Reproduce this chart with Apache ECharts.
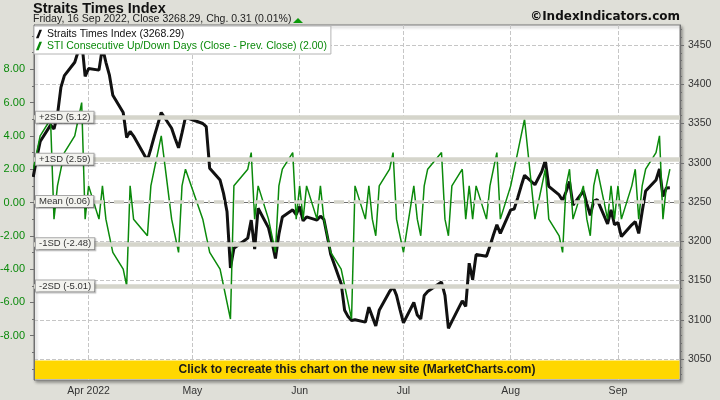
<!DOCTYPE html>
<html><head><meta charset="utf-8">
<script src="https://cdn.jsdelivr.net/npm/echarts@6/dist/echarts.min.js"></script>
<style>html,body{margin:0;padding:0;background:#dfdfd8}#c{width:720px;height:400px}</style>
</head><body><div id="c"></div>
<script>
// ---- data ----
const tradingDates = [
 '2022-03-16','2022-03-17','2022-03-18','2022-03-21','2022-03-22','2022-03-23','2022-03-24','2022-03-25','2022-03-28','2022-03-29','2022-03-30','2022-03-31',
 '2022-04-01','2022-04-04','2022-04-05','2022-04-06','2022-04-07','2022-04-08','2022-04-11','2022-04-12','2022-04-13','2022-04-14','2022-04-18','2022-04-19','2022-04-20','2022-04-21','2022-04-22','2022-04-25','2022-04-26','2022-04-27','2022-04-28','2022-04-29',
 '2022-05-04','2022-05-05','2022-05-06','2022-05-09','2022-05-10','2022-05-11','2022-05-12','2022-05-13','2022-05-17','2022-05-18','2022-05-19','2022-05-20','2022-05-23','2022-05-24','2022-05-25','2022-05-26','2022-05-27','2022-05-30','2022-05-31',
 '2022-06-01','2022-06-02','2022-06-03','2022-06-06','2022-06-07','2022-06-08','2022-06-09','2022-06-10','2022-06-13','2022-06-14','2022-06-15','2022-06-16','2022-06-17','2022-06-20','2022-06-21','2022-06-22','2022-06-23','2022-06-24','2022-06-27','2022-06-28','2022-06-29','2022-06-30',
 '2022-07-01','2022-07-04','2022-07-05','2022-07-06','2022-07-07','2022-07-08','2022-07-12','2022-07-13','2022-07-14','2022-07-15','2022-07-18','2022-07-19','2022-07-20','2022-07-21','2022-07-22','2022-07-25','2022-07-26','2022-07-27','2022-07-28','2022-07-29',
 '2022-08-01','2022-08-02','2022-08-03','2022-08-04','2022-08-05','2022-08-08','2022-08-10','2022-08-11','2022-08-12','2022-08-15','2022-08-16','2022-08-17','2022-08-18','2022-08-19','2022-08-22','2022-08-23','2022-08-24','2022-08-25','2022-08-26','2022-08-29','2022-08-30','2022-08-31',
 '2022-09-01','2022-09-02','2022-09-05','2022-09-06','2022-09-07','2022-09-08','2022-09-09','2022-09-12','2022-09-13','2022-09-14','2022-09-15','2022-09-16'
];
const stiClose = [
 3282,3306,3327,3348,3343,3361,3396,3411,3428,3442,3456,3410,
 3420,3418,3447,3428,3412,3386,3364,3332,3340,3334,3303,3318,3334,3349,3364,3344,3331,3319,3338,3358,
 3350,3346,3293,3278,3261,3238,3166,3191,3204,3227,3190,3242,3217,3199,3178,3209,3231,3240,3234,
 3244,3226,3231,3227,3232,3228,3206,3183,3146,3112,3104,3099,3100,3097,3116,3104,3092,3112,3136,3142,3131,3113,
 3096,3122,3106,3101,3131,3136,3148,3131,3089,3098,3124,3117,3172,3151,3183,3181,3194,3208,3221,3210,
 3240,3241,3255,3270,3284,3272,3289,3303,3270,3259,3252,3263,3276,3246,3264,3248,3233,3251,3253,3222,3240,3221,
 3224,3206,3221,3225,3210,3238,3264,3278,3292,3257,3267.98,3268.29
];
const consecDays = [
 2,3,4,5,-1,1,2,3,4,5,6,-1,
 1,-1,1,-1,-2,-3,-4,-5,1,-1,-2,1,2,3,4,-1,-2,-3,1,2,
 -1,-2,-3,-4,-5,-6,-7,1,2,3,-1,1,-1,-2,-3,1,2,3,-1,
 1,-1,1,-1,1,-1,-2,-3,-4,-5,-6,-7,1,-1,1,-1,-2,1,2,3,-1,-2,
 -3,1,-1,-2,1,2,3,-1,-2,1,2,-1,1,-1,1,-1,1,2,3,-1,
 1,2,3,4,5,-1,1,2,-1,-2,-3,1,2,-1,1,-1,-2,1,2,-1,1,-1,
 1,-1,1,2,-1,1,2,3,4,-1,1,2
];
const sdLevels = [5.12, 2.59, 0.06, -2.48, -5.01];
const sdLabels = ['+2SD (5.12)', '+1SD (2.59)', 'Mean (0.06)', '-1SD (-2.48)', '-2SD (-5.01)'];
const monthTicks = ['2022-04-01','2022-05-01','2022-06-01','2022-07-01','2022-08-01','2022-09-01'];
const monthLabels = ['Apr 2022','May','Jun','Jul','Aug','Sep'];
const leftTicks = [-8,-6,-4,-2,0,2,4,6,8];
const leftMinorTicks = [-10,-9,-7,-5,-3,-1,1,3,5,7,9,10];
const rightTicks = [3050,3100,3150,3200,3250,3300,3350,3400,3450];
const rightMinorTicks = [3030,3040,3060,3070,3080,3090,3110,3120,3130,3140,3160,3170,3180,3190,3210,3220,3230,3240,3260,3270,3280,3290,3310,3320,3330,3340,3360,3370,3380,3390,3410,3420,3430,3440,3460,3470];
const nameSTI = 'Straits Times Index (3268.29)';
const nameCD = 'STI Consecutive Up/Down Days (Close - Prev. Close) (2.00)';

// ---- build ----
const DAY = 86400000;
const ts = tradingDates.map(d => Date.parse(d));
const monthTs = monthTicks.map(d => Date.parse(d));
const APR1 = Date.parse('2022-04-01');
const xMin = APR1 - 15.78 * DAY, xMax = APR1 + 170.93 * DAY;
const GREEN = '#0b8a0b';
const FONT = 'Liberation Sans';
const gridStyle = {color: '#c6c6c6', type: [4, 2], width: 1};

const chart = echarts.init(document.getElementById('c'), null, {renderer: 'canvas'});
chart.setOption({
  animation: false,
  backgroundColor: '#dfdfd8',
  textStyle: {fontFamily: FONT},
  grid: {left: 34, right: 40, top: 25, bottom: 20, show: true, backgroundColor: '#ffffff',
         borderColor: '#7a7a7a', borderWidth: 1, shadowColor: 'rgba(0,0,0,0.35)', shadowBlur: 3, shadowOffsetX: 2, shadowOffsetY: 2,
         outerBoundsMode: 'none'},
  legend: {
    left: 34, top: 26, orient: 'vertical', itemGap: 0, itemWidth: 6, itemHeight: 9,
    padding: [2, 4, 2, 2], backgroundColor: '#ffffff', borderColor: '#b4b4b4', borderWidth: 1,
    icon: 'path://M4,0 L7,0 L3,10 L0,10 Z',
    textStyle: {fontFamily: FONT, fontSize: 10.5, lineHeight: 12},
    data: [{name: nameSTI, textStyle: {color: '#111'}}, {name: nameCD, textStyle: {color: GREEN}}]
  },
  xAxis: {
    type: 'value', min: xMin, max: xMax,
    axisLine: {show: true, lineStyle: {color: '#707070'}},
    axisTick: {show: true, customValues: monthTs, length: 4, lineStyle: {color: '#707070'}},
    axisLabel: {customValues: monthTs, color: '#333', fontSize: 10.5, fontFamily: FONT, margin: 6,
      formatter: v => { const i = monthTs.findIndex(t => Math.abs(t - v) < DAY / 2); return i >= 0 ? monthLabels[i] : ''; }},
    splitLine: {show: true, lineStyle: gridStyle}
  },
  yAxis: [
    {type: 'value', position: 'left', min: -10.66, max: 10.66,
     axisLine: {show: true, lineStyle: {color: '#707070'}},
     axisTick: {show: true, customValues: leftTicks, length: 4, lineStyle: {color: '#707070'}},
     axisLabel: {customValues: leftTicks, formatter: v => v.toFixed(2), color: GREEN, fontSize: 11, fontFamily: FONT, margin: 9},
     splitLine: {show: false}},
    {type: 'value', position: 'right', min: 3023.25, max: 3475.5,
     axisLine: {show: true, lineStyle: {color: '#707070'}},
     axisTick: {show: true, customValues: rightTicks, length: 4, lineStyle: {color: '#707070'}},
     axisLabel: {customValues: rightTicks, formatter: v => String(Math.round(v)), color: '#333', fontSize: 10.5, fontFamily: FONT, margin: 8},
     splitLine: {show: true, lineStyle: gridStyle}},
    {type: 'value', position: 'left', min: -10.66, max: 10.66,
     axisLine: {show: false}, axisLabel: {show: false}, splitLine: {show: false},
     axisTick: {show: true, customValues: leftMinorTicks, length: 2, lineStyle: {color: '#707070'}}},
    {type: 'value', position: 'right', min: 3023.25, max: 3475.5,
     axisLine: {show: false}, axisLabel: {show: false}, splitLine: {show: false},
     axisTick: {show: true, customValues: rightMinorTicks, length: 2, lineStyle: {color: '#707070'}}}
  ],
  series: [
    {type: 'line', yAxisIndex: 0, data: [], z: 1, silent: true,
     markLine: {silent: true, symbol: ['none', 'none'], label: {show: false}, animation: false,
       data: sdLevels.map((v, i) => ({yAxis: v, lineStyle: {color: '#d5d5cb', width: i === 2 ? 3.5 : 4.5, type: i === 2 ? [10, 4, 2, 4] : 'solid'}}))}},
    {name: nameSTI, type: 'line', yAxisIndex: 1, data: ts.map((t, i) => [t, stiClose[i]]),
     symbol: 'none', lineStyle: {color: '#111111', width: 3}, itemStyle: {color: '#111111'}, z: 3},
    {name: nameCD, type: 'line', yAxisIndex: 0, data: ts.map((t, i) => [t, consecDays[i]]),
     symbol: 'none', lineStyle: {color: GREEN, width: 1.5}, itemStyle: {color: GREEN}, z: 4},
    {type: 'line', yAxisIndex: 0, data: [], z: 6, silent: true,
     markLine: {silent: true, symbol: ['none', 'none'], animation: false, lineStyle: {color: 'rgba(0,0,0,0)', width: 1, type: 'solid'},
       label: {show: true, position: 'insideStart', distance: 2, formatter: '{b}', fontFamily: FONT, fontSize: 9.5, color: '#333',
         backgroundColor: '#f3f3ef', borderColor: '#a8a8a8', borderWidth: 1, padding: [1, 3, 0, 3],
         shadowColor: 'rgba(0,0,0,0.25)', shadowOffsetX: 1, shadowOffsetY: 1, shadowBlur: 1},
       data: sdLevels.map((v, i) => ({yAxis: v, name: sdLabels[i]}))}}
  ],
  graphic: [
    {type: 'text', x: 33, y: 1, z: 50, style: {text: 'Straits Times Index', font: 'bold 14.5px "Liberation Sans"', fill: '#111', textVerticalAlign: 'top'}},
    {type: 'text', x: 33, y: 13.5, z: 50, style: {text: 'Friday, 16 Sep 2022, Close 3268.29, Chg. 0.31 (0.01%)', font: '10.5px "Liberation Sans"', fill: '#222', textVerticalAlign: 'top'}},
    {type: 'polygon', z: 50, shape: {points: [[293, 23], [303, 23], [298, 18]]}, style: {fill: '#0a9a0a'}},
    {type: 'text', x: 680, y: 17, z: 50, style: {text: '©IndexIndicators.com', font: 'bold 12px "DejaVu Sans"', fill: '#111', textAlign: 'right', textVerticalAlign: 'middle'}},
    {type: 'rect', z: 100, shape: {x: 35, y: 360.5, width: 644.5, height: 18.5}, style: {fill: '#ffd700'}},
    {type: 'text', z: 101, x: 357, y: 370, style: {text: 'Click to recreate this chart on the new site (MarketCharts.com)', font: 'bold 12px "Liberation Sans"', fill: '#1a1a1a', textAlign: 'center', textVerticalAlign: 'middle'}}
  ]
});
</script></body></html>
